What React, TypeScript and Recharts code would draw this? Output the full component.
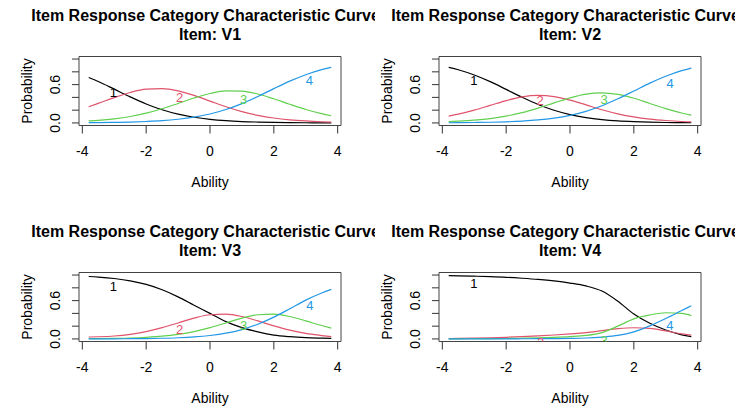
import React from 'react';
import { ComposedChart, Line, Scatter, XAxis, YAxis, ReferenceArea, Customized } from 'recharts';

// Ability grid (x values at which curves were read)
const abilityGrid = [-3.8, -3.5, -3, -2.5, -2, -1.5, -1, -0.5, 0, 0.5, 1, 1.5, 2, 2.5, 3, 3.5, 3.8];

// Item V1
const v1Cat1 = [0.711, 0.648, 0.529, 0.408, 0.297, 0.206, 0.137, 0.089, 0.056, 0.035, 0.022, 0.014, 0.008, 0.005, 0.003, 0.002, 0.001];
const v1Cat2 = [0.254, 0.306, 0.397, 0.477, 0.528, 0.537, 0.502, 0.431, 0.342, 0.253, 0.177, 0.119, 0.077, 0.049, 0.031, 0.019, 0.014];
const v1Cat3 = [0.031, 0.041, 0.065, 0.101, 0.153, 0.222, 0.304, 0.390, 0.461, 0.501, 0.498, 0.453, 0.378, 0.292, 0.211, 0.145, 0.113];
const v1Cat4 = [0.004, 0.005, 0.009, 0.014, 0.023, 0.036, 0.058, 0.091, 0.140, 0.210, 0.303, 0.415, 0.537, 0.654, 0.755, 0.834, 0.871];

// Item V2
const v2Cat1 = [0.870, 0.832, 0.750, 0.646, 0.525, 0.401, 0.289, 0.198, 0.130, 0.083, 0.052, 0.032, 0.020, 0.012, 0.007, 0.005, 0.003];
const v2Cat2 = [0.107, 0.137, 0.200, 0.275, 0.350, 0.409, 0.432, 0.413, 0.357, 0.283, 0.207, 0.143, 0.094, 0.060, 0.038, 0.023, 0.018];
const v2Cat3 = [0.020, 0.027, 0.043, 0.068, 0.107, 0.161, 0.232, 0.314, 0.393, 0.452, 0.472, 0.447, 0.386, 0.305, 0.224, 0.155, 0.121];
const v2Cat4 = [0.003, 0.004, 0.007, 0.011, 0.018, 0.029, 0.047, 0.076, 0.119, 0.182, 0.269, 0.378, 0.500, 0.623, 0.731, 0.818, 0.858];

// Item V3
const v3Cat1 = [0.977, 0.968, 0.946, 0.910, 0.853, 0.770, 0.659, 0.528, 0.400, 0.271, 0.177, 0.110, 0.060, 0.035, 0.020, 0.012, 0.008];
const v3Cat2 = [0.030, 0.034, 0.046, 0.072, 0.115, 0.176, 0.250, 0.326, 0.379, 0.388, 0.351, 0.282, 0.204, 0.137, 0.087, 0.053, 0.035];
const v3Cat3 = [0.004, 0.005, 0.009, 0.015, 0.026, 0.043, 0.072, 0.115, 0.176, 0.250, 0.326, 0.379, 0.388, 0.351, 0.282, 0.210, 0.170];
const v3Cat4 = [0.001, 0.001, 0.002, 0.004, 0.006, 0.011, 0.019, 0.032, 0.054, 0.090, 0.147, 0.230, 0.341, 0.473, 0.608, 0.720, 0.775];

// Item V4
const v4Cat1 = [0.990, 0.988, 0.982, 0.975, 0.965, 0.950, 0.932, 0.908, 0.875, 0.830, 0.750, 0.590, 0.390, 0.245, 0.140, 0.065, 0.035];
const v4Cat2 = [0.006, 0.008, 0.012, 0.018, 0.026, 0.036, 0.048, 0.062, 0.080, 0.100, 0.130, 0.160, 0.175, 0.165, 0.125, 0.080, 0.058];
const v4Cat3 = [0.002, 0.002, 0.004, 0.005, 0.007, 0.011, 0.016, 0.024, 0.036, 0.055, 0.100, 0.200, 0.315, 0.375, 0.410, 0.400, 0.365];
const v4Cat4 = [0.002, 0.002, 0.002, 0.002, 0.002, 0.003, 0.004, 0.006, 0.009, 0.015, 0.030, 0.055, 0.110, 0.205, 0.320, 0.445, 0.520];

// Curve label positions (ability, probability) per item
const v1Labels = [{ x: -3.03, y: 0.473 }, { x: -0.95, y: 0.394 }, { x: 1.05, y: 0.375 }, { x: 3.11, y: 0.662 }];
const v2Labels = [{ x: -3.01, y: 0.66 }, { x: -0.94, y: 0.347 }, { x: 1.07, y: 0.369 }, { x: 3.14, y: 0.62 }];
const v3Labels = [{ x: -3.03, y: 0.82 }, { x: -0.95, y: 0.153 }, { x: 1.05, y: 0.205 }, { x: 3.13, y: 0.52 }];
const v4Labels = [{ x: -3.01, y: 0.863 }, { x: -0.92, y: -0.055 }, { x: 1.07, y: -0.02 }, { x: 3.13, y: 0.216 }];

const itemNames = ['V1', 'V2', 'V3', 'V4'];
const categoryNames = ['1', '2', '3', '4'];
const categoryColors = ['#000000', '#DF536B', '#61D04F', '#2297E6'];
const xTicks = [-4, -2, 0, 2, 4];
const yTicks = [0, 0.2, 0.4, 0.6, 0.8, 1];
const yTickLabels = [0, 0.6];
const titleText = 'Item Response Category Characteristic Curves';
const xLabel = 'Ability';
const yLabel = 'Probability';

const X_DOMAIN: [number, number] = [-4.104, 4.104];
const Y_DOMAIN: [number, number] = [-0.04, 1.04];
const FONT = '"Liberation Sans", Arial, Helvetica, sans-serif';
const AXIS_FS = 14;

const PANEL_W = 375;
const PANEL_H = 216;

function buildRows(cats: number[][]) {
  return abilityGrid.map((x, i) => ({ x, p1: cats[0][i], p2: cats[1][i], p3: cats[2][i], p4: cats[3][i] }));
}

function buildLabels(pos: { x: number; y: number }[]) {
  return pos.map((p, i) => ({ x: p.x, y: p.y, label: categoryNames[i], color: categoryColors[i] }));
}

const YTick = (props: any) => {
  const { x, y, payload } = props;
  const v = payload.value;
  if (!yTickLabels.some((t) => Math.abs(t - v) < 1e-9)) return <g />;
  return (
    <text
      x={0}
      y={0}
      transform={`translate(${x - 12},${y}) rotate(-90)`}
      textAnchor="middle"
      fontSize={AXIS_FS}
      fontFamily={FONT}
      fill="#000"
    >
      {Number(v).toFixed(1)}
    </text>
  );
};

const CatLabel = (props: any) => {
  const { cx, cy, payload } = props;
  return (
    <text x={cx} y={cy} dy="0.35em" textAnchor="middle" fontSize={13} fontFamily={FONT} fill={payload.color}>
      {payload.label}
    </text>
  );
};

const PanelTexts = ({ item }: { item: string }) => (
  <g fontFamily={FONT} fill="#000">
    <text x={210} y={21.3} textAnchor="middle" fontSize={16} fontWeight="bold">
      {titleText}
    </text>
    <text x={210} y={40.3} textAnchor="middle" fontSize={16} fontWeight="bold">
      {`Item: ${item}`}
    </text>
    <text x={210} y={187} textAnchor="middle" fontSize={AXIS_FS}>
      {xLabel}
    </text>
    <text transform="translate(31.5,91) rotate(-90)" textAnchor="middle" fontSize={AXIS_FS}>
      {yLabel}
    </text>
  </g>
);

function Panel({ item, cats, labels, left, top }: { item: string; cats: number[][]; labels: { x: number; y: number }[]; left: number; top: number }) {
  const rows = buildRows(cats);
  const labelData = buildLabels(labels);
  return (
    <div style={{ position: 'absolute', left, top, width: PANEL_W, height: PANEL_H }}>
      <ComposedChart
        width={PANEL_W}
        height={PANEL_H}
        data={rows}
        margin={{ top: 56.5, right: 34, bottom: 60.5, left: 39 }}
      >
        <XAxis
          dataKey="x"
          type="number"
          domain={X_DOMAIN}
          ticks={xTicks}
          allowDataOverflow
          interval={0}
          axisLine={false}
          tickLine={{ stroke: '#333' }}
          tickSize={8}
          tickMargin={13}
          height={30}
          tick={{ fontSize: AXIS_FS, fill: '#000', fontFamily: FONT }}
        />
        <YAxis
          type="number"
          domain={Y_DOMAIN}
          ticks={yTicks}
          allowDataOverflow
          interval={0}
          axisLine={false}
          tickLine={{ stroke: '#333' }}
          tickSize={7}
          tickMargin={0}
          width={40}
          tick={<YTick />}
        />
        <ReferenceArea
          x1={X_DOMAIN[0]}
          x2={X_DOMAIN[1]}
          y1={Y_DOMAIN[0]}
          y2={Y_DOMAIN[1]}
          fill="none"
          stroke="#444"
          strokeWidth={1}
          ifOverflow="visible"
        />
        {['p1', 'p2', 'p3', 'p4'].map((k, i) => (
          <Line
            key={k}
            dataKey={k}
            type="monotone"
            stroke={categoryColors[i]}
            strokeWidth={1.2}
            dot={false}
            activeDot={false}
            isAnimationActive={false}
          />
        ))}
        <Scatter data={labelData} dataKey="y" shape={<CatLabel />} isAnimationActive={false} />
        <Customized component={<PanelTexts item={item} />} />
      </ComposedChart>
    </div>
  );
}

export default function App() {
  return (
    <div style={{ position: 'absolute', left: 0, top: 0, width: 756, height: 409, background: '#fff', overflow: 'hidden' }}>
      <Panel item={itemNames[0]} cats={[v1Cat1, v1Cat2, v1Cat3, v1Cat4]} labels={v1Labels} left={0} top={0} />
      <Panel item={itemNames[1]} cats={[v2Cat1, v2Cat2, v2Cat3, v2Cat4]} labels={v2Labels} left={360} top={0} />
      <Panel item={itemNames[2]} cats={[v3Cat1, v3Cat2, v3Cat3, v3Cat4]} labels={v3Labels} left={0} top={216} />
      <Panel item={itemNames[3]} cats={[v4Cat1, v4Cat2, v4Cat3, v4Cat4]} labels={v4Labels} left={360} top={216} />
    </div>
  );
}
